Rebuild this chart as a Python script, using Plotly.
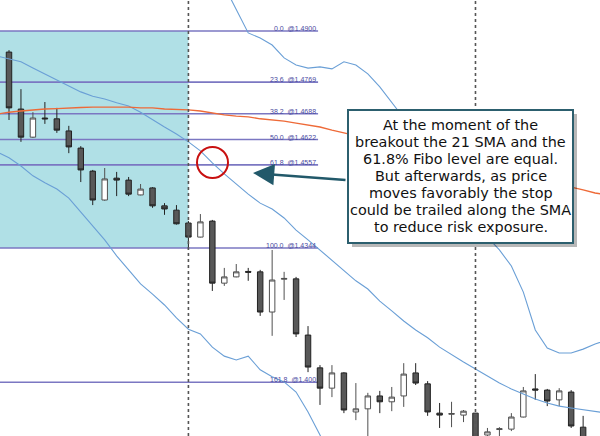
import plotly.graph_objects as go

# ---------------- data ----------------
bar_index = list(range(49))
open_ = [1.4846, 1.4700, 1.4628, 1.4677, 1.4675, 1.4644, 1.4600, 1.4541, 1.4467, 1.4523,
         1.4518, 1.4480, 1.4498, 1.4452, 1.4441, 1.4408, 1.4372, 1.4413, 1.4254, 1.4270,
         1.4284, 1.4283, 1.4180, 1.4264, 1.4265, 1.4121, 1.4037, 1.3985, 1.4024, 1.3924,
         1.3932, 1.3965, 1.3950, 1.3965, 1.4024, 1.3996, 1.3921, 1.3918, 1.3916, 1.3921,
         1.3865, 1.3879, 1.3880, 1.3911, 1.3983, 1.3980, 1.3955, 1.3975, 1.3885]
high = [1.4851, 1.4751, 1.4692, 1.4718, 1.4703, 1.4657, 1.4605, 1.4544, 1.4549, 1.4539,
        1.4526, 1.4508, 1.4500, 1.4459, 1.4454, 1.4413, 1.4431, 1.4416, 1.4293, 1.4303,
        1.4293, 1.4288, 1.4339, 1.4283, 1.4270, 1.4144, 1.4044, 1.4044, 1.4026, 1.3998,
        1.3973, 1.3978, 1.3988, 1.4049, 1.4049, 1.4003, 1.3947, 1.3950, 1.3929, 1.3921,
        1.3883, 1.3885, 1.3921, 1.3988, 1.4021, 1.3983, 1.3985, 1.3980, 1.3914]
low = [1.4672, 1.4616, 1.4626, 1.4662, 1.4639, 1.4587, 1.4513, 1.4454, 1.4465, 1.4477,
       1.4477, 1.4479, 1.4447, 1.4429, 1.4404, 1.4339, 1.4371, 1.4234, 1.4247, 1.4269,
       1.4260, 1.4170, 1.4119, 1.4211, 1.4116, 1.4026, 1.3942, 1.3962, 1.3921, 1.3903,
       1.3852, 1.3921, 1.3926, 1.3937, 1.3993, 1.3914, 1.3883, 1.3885, 1.3898, 1.3827,
       1.3852, 1.3852, 1.3875, 1.3910, 1.3955, 1.3939, 1.3939, 1.3883, 1.3827]
close = [1.4703, 1.4628, 1.4677, 1.4675, 1.4646, 1.4603, 1.4544, 1.4467, 1.4521, 1.4518,
         1.4482, 1.4495, 1.4452, 1.4444, 1.4406, 1.4372, 1.4411, 1.4254, 1.4270, 1.4283,
         1.4282, 1.4180, 1.4262, 1.4266, 1.4124, 1.4039, 1.3985, 1.4024, 1.3929, 1.3932,
         1.3965, 1.3950, 1.3962, 1.4021, 1.3998, 1.3924, 1.3916, 1.3920, 1.3926, 1.3839,
         1.3873, 1.3881, 1.3911, 1.3978, 1.3980, 1.3952, 1.3978, 1.3888, 1.3839]

sma_index = list(range(-1, 51))
sma21 = [1.4836, 1.4828, 1.4821, 1.4805, 1.4790, 1.4774, 1.4759, 1.4744, 1.4733, 1.4726,
         1.4716, 1.4708, 1.4692, 1.4672, 1.4654, 1.4636, 1.4616, 1.4593, 1.4562, 1.4534,
         1.4508, 1.4482, 1.4459, 1.4444, 1.4421, 1.4390, 1.4365, 1.4339, 1.4311, 1.4285,
         1.4260, 1.4239, 1.4208, 1.4183, 1.4157, 1.4134, 1.4114, 1.4090, 1.4070, 1.4052,
         1.4034, 1.4016, 1.3998, 1.3983, 1.3970, 1.3957, 1.3947, 1.3939, 1.3934, 1.3929,
         1.3924, 1.3921]

upper_index = list(range(16, 51))
upper_band = [1.5159, 1.5082, 1.5015, 1.4954, 1.4895, 1.4882, 1.4864, 1.4831, 1.4813, 1.4805,
              1.4808, 1.4803, 1.4821, 1.4813, 1.4790, 1.4757, 1.4718, 1.4677, 1.4636, 1.4595,
              1.4554, 1.4513, 1.4467, 1.4416, 1.4372, 1.4339, 1.4298, 1.4231, 1.4134, 1.4088,
              1.4075, 1.4075, 1.4085, 1.4098, 1.4108]

lower_index = list(range(-1, 29))
lower_band = [1.4590, 1.4575, 1.4554, 1.4529, 1.4511, 1.4495, 1.4472, 1.4436, 1.4400, 1.4365,
              1.4324, 1.4288, 1.4252, 1.4226, 1.4198, 1.4165, 1.4136, 1.4124, 1.4090, 1.4067,
              1.4057, 1.4067, 1.4032, 1.4014, 1.4001, 1.3975, 1.3924, 1.3865, 1.3801, 1.3724]

slow_index = list(range(-1, 51))
slow_ma = [1.4687, 1.4692, 1.4695, 1.4698, 1.4700, 1.4701, 1.4703, 1.4704, 1.4705, 1.4705,
           1.4705, 1.4705, 1.4703, 1.4703, 1.4700, 1.4699, 1.4698, 1.4695, 1.4690, 1.4685,
           1.4682, 1.4680, 1.4675, 1.4672, 1.4669, 1.4664, 1.4659, 1.4654, 1.4646, 1.4639,
           1.4632, 1.4626, 1.4618, 1.4610, 1.4603, 1.4595, 1.4587, 1.4582, 1.4575, 1.4567,
           1.4559, 1.4552, 1.4544, 1.4536, 1.4531, 1.4523, 1.4516, 1.4508, 1.4500, 1.4493,
           1.4485, 1.4480]

fib_levels = [1.4900, 1.4769, 1.4688, 1.4622, 1.4557, 1.4344, 1.4000]
fib_labels = ["0.0  @1.4900", "23.6  @1.4769", "38.2  @1.4688", "50.0  @1.4622",
              "61.8  @1.4557", "100.0  @1.4344", "161.8  @1.400"]
fib_end_bar = 25.84
zone_end_bar = 15
zone_top, zone_bottom = 1.4900, 1.4344
marker_bars = [15, 39]

note_lines = ["At the moment of the",
              "breakout the 21 SMA and the",
              "61.8% Fibo level are equal.",
              "But afterwards, as price",
              "moves favorably the stop",
              "could be trailed along the SMA",
              "to reduce risk exposure."]

# ---------------- figure ----------------
W, H = 600, 436
X_RANGE = [-0.7525, 49.41]
Y_RANGE = [1.38624, 1.49794]


def px(x):
    return x / W


def py(y):
    return 1 - y / H


fig = go.Figure()

blue = "#6A9FD6"
fig.add_trace(go.Scatter(x=lower_index, y=lower_band, mode="lines",
                         line=dict(color=blue, width=1.1), hoverinfo="skip"))
fig.add_trace(go.Scatter(x=upper_index, y=upper_band, mode="lines",
                         line=dict(color=blue, width=1.1), hoverinfo="skip"))
fig.add_trace(go.Scatter(x=sma_index, y=sma21, mode="lines",
                         line=dict(color=blue, width=1.1), hoverinfo="skip"))
fig.add_trace(go.Scatter(x=slow_index, y=slow_ma, mode="lines",
                         line=dict(color="#EE6A38", width=1.4), hoverinfo="skip"))

fig.add_trace(go.Candlestick(
    x=bar_index, open=open_, high=high, low=low, close=close,
    increasing=dict(line=dict(color="#505050", width=1), fillcolor="#FFFFFF"),
    decreasing=dict(line=dict(color="#222222", width=1), fillcolor="#585858"),
    whiskerwidth=0, hoverinfo="skip"))

shapes = []
# shaded zone
shapes.append(dict(type="rect", xref="x", yref="y", x0=X_RANGE[0], x1=zone_end_bar,
                   y0=zone_bottom, y1=zone_top, fillcolor="#B0E0E6",
                   line=dict(width=0), layer="below"))
# fib lines
for lv in fib_levels:
    shapes.append(dict(type="line", xref="x", yref="y", x0=X_RANGE[0], x1=fib_end_bar,
                       y0=lv, y1=lv, line=dict(color="#7B77C2", width=1.6), layer="below"))
# dotted event lines
for b in marker_bars:
    shapes.append(dict(type="line", xref="x", yref="paper", x0=b, x1=b, y0=0, y1=1,
                       line=dict(color="#555555", width=1.6, dash="dot"), layer="above"))
# red circle
shapes.append(dict(type="circle", xref="paper", yref="paper",
                   x0=px(197), x1=px(228), y0=py(178), y1=py(147),
                   line=dict(color="#C81010", width=2), layer="above"))
# note box shadow + box
shapes.append(dict(type="rect", xref="paper", yref="paper",
                   x0=px(352), x1=px(577), y0=py(247), y1=py(114),
                   fillcolor="rgba(0,0,0,0.28)", line=dict(width=0), layer="above"))
shapes.append(dict(type="rect", xref="paper", yref="paper",
                   x0=px(348), x1=px(573), y0=py(243), y1=py(110),
                   fillcolor="#FFFFFF", line=dict(color="#2C5F6E", width=2), layer="above"))

annotations = []
for lv, lab in zip(fib_levels, fib_labels):
    annotations.append(dict(x=fib_end_bar, y=lv, xref="x", yref="y", text=lab,
                            showarrow=False, xanchor="right", yanchor="bottom", yshift=-3,
                            font=dict(family="Liberation Sans", size=7, color="#4A4AA0")))
for k, line in enumerate(note_lines):
    annotations.append(dict(x=px(460.5), y=py(125 + 17 * k), xref="paper", yref="paper",
                            text=line, showarrow=False, xanchor="center", yanchor="middle",
                            font=dict(family="DejaVu Sans", size=14.4, color="#111111")))
# arrow
annotations.append(dict(x=px(253), y=py(173), xref="paper", yref="paper", text="",
                        showarrow=True, ax=94, ay=7, axref="pixel", ayref="pixel",
                        arrowhead=2, arrowsize=1.7, arrowwidth=2.5, arrowcolor="#22596A",
                        standoff=0))

fig.update_layout(
    width=W, height=H, margin=dict(l=0, r=0, t=0, b=0),
    paper_bgcolor="#FFFFFF", plot_bgcolor="#FFFFFF",
    showlegend=False, boxgap=0.35,
    shapes=shapes, annotations=annotations,
    xaxis=dict(range=X_RANGE, visible=False, rangeslider=dict(visible=False), fixedrange=True),
    yaxis=dict(range=Y_RANGE, visible=False, fixedrange=True),
)

fig.write_html("out.html", config=dict(displayModeBar=False),
               post_script="document.body.style.margin='0';document.body.style.padding='0';")
